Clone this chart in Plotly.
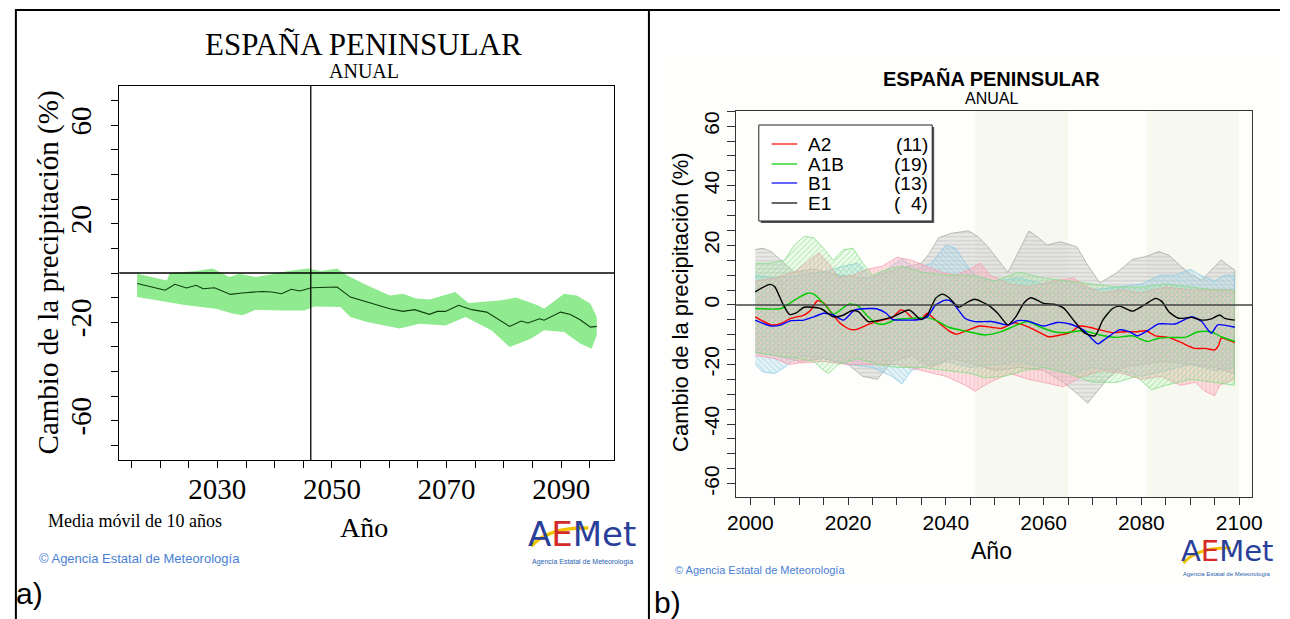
import plotly.graph_objects as go

W, H = 1290, 619

# ---------------- Panel a data (10-year moving mean, ensemble band) -------------
a_line_years = [2016.0, 2020.9, 2022.6, 2024.6, 2026.3, 2027.5, 2029.5, 2032.3, 2034.3, 2037.8,
                2039.5, 2041.2, 2042.9, 2044.4, 2046.4, 2048.7, 2050.9, 2053.2, 2056.7, 2060.1,
                2062.4, 2064.4, 2067.0, 2068.4, 2069.8, 2072.1, 2074.4, 2077.0, 2081.0, 2083.0,
                2084.2, 2086.2, 2087.0, 2089.9, 2091.6, 2093.3, 2095.1, 2096.2]
a_line_vals = [-4.3, -7.0, -4.6, -6.1, -5.0, -6.4, -6.0, -8.7, -8.1, -7.5,
               -7.7, -8.4, -6.6, -7.3, -6.0, -5.7, -5.7, -9.8, -12.1, -14.5,
               -15.6, -14.9, -16.8, -15.6, -15.6, -13.1, -14.9, -15.9, -21.7, -19.5,
               -20.3, -18.6, -19.2, -15.9, -16.9, -19.0, -22.0, -21.7]
a_up_years = [2016.0, 2021.2, 2021.7, 2026.3, 2029.2, 2032.1, 2033.8, 2036.7, 2039.0, 2042.4,
              2045.8, 2048.1, 2050.9, 2052.6, 2056.1, 2060.1, 2062.4, 2064.7, 2067.0, 2071.5,
              2073.8, 2079.6, 2082.1, 2085.9, 2087.0, 2090.5, 2092.7, 2095.1, 2096.2]
a_up_vals = [-0.3, -3.0, 0.0, 0.8, 1.8, -1.6, -0.3, -1.6, -0.7, 0.8,
             1.8, 0.8, 1.8, -0.9, -5.0, -9.1, -8.4, -10.4, -10.8, -7.7,
             -12.2, -11.1, -10.0, -13.1, -14.5, -8.4, -9.1, -12.5, -17.9]
a_lo_years = [2016.0, 2021.2, 2024.6, 2029.8, 2032.6, 2034.4, 2036.7, 2041.2, 2045.2, 2046.9,
              2051.5, 2053.2, 2056.1, 2061.8, 2065.3, 2069.8, 2073.3, 2077.8, 2081.0, 2084.7,
              2087.0, 2090.5, 2093.3, 2095.3, 2096.2]
a_lo_vals = [-9.8, -11.8, -13.1, -14.5, -16.5, -17.2, -14.9, -15.2, -15.2, -13.6,
             -13.8, -17.9, -19.9, -22.6, -20.6, -21.3, -17.9, -23.3, -30.1, -26.7,
             -23.3, -24.0, -28.7, -30.8, -25.3]
a_vline_year = 2046.3
a_xticks = [2030, 2050, 2070, 2090]
a_yticks = [-60, -20, 20, 60]

# ---------------- Panel b data (scenarios) -------------
scen_names = ["A2", "A1B", "B1", "E1"]
scen_counts = ["(11)", "(19)", "(13)", "(  4)"]
scen_colors = ["#ff0000", "#00cc00", "#0000ff", "#000000"]

a2_years = [2001, 2004.3, 2006.3, 2008.3, 2011, 2012.4, 2013.7, 2015, 2016.4, 2018.4, 2020.4, 2021.8,
            2024.4, 2027.1, 2029.1, 2030.8, 2031.8, 2033.2, 2034.9, 2036.2, 2037.9, 2040.6, 2042.2,
            2044.6, 2046.9, 2049.3, 2051.3, 2054, 2056.7, 2059.4, 2061, 2063.4, 2065.4, 2067.4,
            2069.4, 2071.5, 2074.1, 2076.8, 2079.2, 2080.9, 2082.9, 2085.6, 2088.2, 2090.9, 2093,
            2095, 2095.8, 2096.3, 2099.1]
a2_vals = [-4.0, -6.7, -6.2, -4.5, -3.4, -1.7, 1.4, 0.7, -2.3, -6.2, -8.2, -8.2,
           -6.4, -5.1, -4.2, -1.7, -2.3, -4.5, -4.8, -2.8, -5.1, -8.7, -9.8,
           -8.4, -7.1, -7.5, -7.9, -6.0, -7.3, -9.5, -10.7, -10.1, -9.3, -7.1,
           -7.5, -8.4, -9.3, -9.0, -9.0, -8.7, -10.4, -10.9, -12.7, -14.6, -14.6,
           -15.1, -13.5, -11.2, -12.7]
a1b_years = [2001, 2006.3, 2009, 2011.7, 2013, 2015, 2017.1, 2019.1, 2020.4, 2022.1, 2024.1, 2025.8,
             2027.5, 2029.8, 2033.2, 2035.9, 2037.9, 2040.6, 2044.6, 2048, 2051.3, 2054, 2056.7,
             2059.4, 2062.1, 2064.7, 2068.1, 2071.5, 2074.8, 2078.2, 2081.2, 2083.5, 2086.2, 2088.9,
             2091.6, 2094.3, 2096.3, 2099.1]
a1b_vals = [-1.2, -1.2, 1.6, 3.9, 3.6, 0.5, -3.1, -0.8, 0.3, -0.4, -4.0, -6.2,
            -6.4, -4.9, -4.5, -4.2, -5.1, -7.5, -9.0, -10.1, -9.0, -7.1, -5.6,
            -7.5, -9.0, -9.3, -8.7, -10.1, -10.9, -10.4, -12.3, -11.2, -10.9, -10.9,
            -9.0, -9.0, -10.7, -12.3]
b1_years = [2001, 2004.3, 2006.3, 2008.3, 2011, 2013, 2015, 2017, 2019.1, 2021.4, 2024.4, 2025.8,
            2027.8, 2029.1, 2032.5, 2034.2, 2036.2, 2037.9, 2039.9, 2041.2, 2043.9, 2045.9, 2049.3,
            2052.7, 2054.7, 2056.7, 2060, 2062.7, 2065.4, 2068.1, 2070.1, 2071.1, 2072.8, 2075.5,
            2077.5, 2079.2, 2081.5, 2083.5, 2086.9, 2090.3, 2092.3, 2094.3, 2095.6, 2099.1]
b1_vals = [-5.1, -7.1, -6.7, -5.3, -5.1, -4.0, -2.8, -3.4, -5.1, -1.7, -1.2, -1.3,
           -2.8, -4.9, -5.1, -5.0, -4.0, 0.0, 1.6, 1.1, -4.5, -5.6, -5.6,
           -6.7, -5.3, -5.4, -7.1, -5.9, -6.4, -8.4, -11.8, -13.1, -11.2, -8.4,
           -9.0, -10.4, -8.4, -6.4, -6.4, -4.0, -5.6, -9.5, -6.7, -7.5]
e1_years = [2001, 2004, 2005, 2006.6, 2008, 2009.3, 2011, 2014.4, 2017, 2019.1, 2020.8, 2022.1,
            2024.1, 2026.5, 2029.1, 2032.5, 2034.9, 2036.2, 2037.9, 2039.2, 2040.6, 2042.6, 2044.6,
            2045.9, 2048.6, 2050.6, 2052.7, 2054.3, 2056, 2057.4, 2060, 2062.1, 2064.1, 2066.1,
            2068.4, 2070.5, 2072.1, 2074.1, 2075.5, 2078.2, 2080.9, 2082.9, 2084.2, 2085.6, 2087.6,
            2090.3, 2092.3, 2094.3, 2096, 2097, 2099.1]
e1_vals = [4.4, 6.9, 6.1, 0.5, -3.2, -2.8, -0.8, -1.2, -4.0, -3.4, -1.9, -2.3,
           -5.6, -5.1, -4.0, -1.7, -4.9, -3.4, 2.2, 3.6, 2.5, -0.8, 1.1,
           1.9, 0.0, -2.8, -6.7, -4.0, 0.7, 2.4, 0.5, 0.2, -1.1, -5.1,
           -9.5, -10.4, -5.1, -1.2, -0.4, -2.1, 0.3, 2.2, 1.1, -2.3, -4.5,
           -4.2, -5.1, -4.7, -3.4, -4.5, -5.1]

# envelopes (upper / lower) per scenario
e1_up_years = [2001, 2002.6, 2004.3, 2006.3, 2009, 2013, 2018, 2024, 2030, 2035, 2036.5, 2038.5,
               2041, 2044.6, 2046.5, 2048.6, 2051.3, 2052.7, 2054.7, 2057, 2058.7, 2060.7, 2063.4,
               2066.8, 2068.8, 2071.5, 2074.8, 2078.2, 2080.9, 2083.5, 2085.6, 2088.2, 2090.3,
               2092.3, 2094.3, 2096.3, 2097.5, 2099.1]
e1_up_vals = [18.6, 19.0, 17.9, 15.1, 11.0, 12.0, 10.0, 9.0, 12.0, 14.0, 17.0, 22.5,
              24.0, 24.9, 23.0, 19.5, 13.9, 10.9, 17.3, 24.8, 22.9, 20.1, 21.2,
              19.5, 13.9, 7.4, 10.6, 15.3, 16.2, 17.9, 16.7, 12.8, 10.0,
              8.3, 11.7, 15.1, 13.5, 11.7]
e1_lo_years = [2001, 2005, 2010, 2015, 2020, 2023, 2026, 2029, 2033, 2037, 2041, 2046, 2050, 2055,
               2060, 2064, 2067, 2069, 2071, 2073, 2076, 2080, 2085, 2090, 2095, 2099]
e1_lo_vals = [-16, -17, -19, -18, -20, -24, -25, -19, -17, -21, -18, -20, -22, -21,
              -22, -26, -30, -33, -29, -25, -21, -20, -19, -20, -21, -23]

b1_up_years = [2001, 2005, 2010, 2015, 2019, 2022, 2025, 2028, 2031, 2034, 2037, 2040, 2042, 2044,
               2046, 2050, 2055, 2060, 2065, 2070, 2075, 2080, 2084, 2087, 2090, 2092, 2095, 2097, 2099]
b1_up_vals = [10, 9, 10, 11, 13, 14, 9, 12, 15.5, 12, 14, 20, 19, 14,
              10, 8, 9, 7, 8, 5, 6, 7, 10, 10, 12, 10, 8, 10, 10]
b1_lo_years = [2001, 2002.5, 2005, 2007, 2010, 2015, 2020, 2025, 2029, 2031, 2033, 2037, 2040, 2045,
               2050, 2055, 2060, 2065, 2070, 2075, 2080, 2085, 2090, 2095, 2099]
b1_lo_vals = [-20, -22.5, -23, -21, -17, -18, -20, -21, -24, -26.5, -22, -20, -19, -21,
              -20, -19, -21, -23, -21, -22, -24, -22, -20, -22, -21]

a2_up_years = [2001, 2005, 2009, 2012, 2014, 2016, 2018, 2021, 2024, 2027, 2030, 2033, 2036, 2039,
               2042, 2045, 2047, 2049, 2053, 2057, 2062, 2066, 2069, 2072, 2076, 2080, 2085, 2090,
               2095, 2099]
a2_up_vals = [8, 9, 11, 15, 17.5, 14, 9, 10, 12, 13, 16, 15, 13, 11,
              10, 12, 14, 10, 7, 6, 8, 9, 6, 4, 5, 4, 6, 5, 5, 5]
a2_lo_years = [2001, 2005, 2008, 2010, 2015, 2020, 2025, 2030, 2035, 2040, 2044, 2046, 2049, 2053,
               2057, 2060, 2064, 2068, 2072, 2076, 2080, 2084, 2088, 2091, 2093, 2095, 2096, 2099]
a2_lo_vals = [-17, -18, -20, -19.5, -19, -20, -20, -20, -22, -24, -27, -29, -26, -23,
              -25, -26, -27.5, -24, -22, -23, -25, -24, -27, -26, -29, -30.5, -27, -25]

a1b_up_years = [2001, 2004, 2007, 2009, 2011, 2013, 2015, 2017, 2019, 2021, 2023, 2025, 2028, 2031,
                2035, 2040, 2045, 2050, 2055, 2060, 2065, 2070, 2075, 2080, 2085, 2090, 2095, 2099]
a1b_up_vals = [14, 14, 15, 20, 23, 22.5, 19, 15, 18.5, 19, 14, 10, 12, 13,
               11, 10, 10, 8, 11, 9, 8, 7, 6, 6, 7, 6, 5, 5]
a1b_lo_years = [2001, 2005, 2010, 2013, 2015, 2016, 2018, 2022, 2026, 2030, 2035, 2040, 2045, 2048,
                2052, 2056, 2060, 2065, 2070, 2075, 2079, 2082, 2085, 2090, 2095, 2099]
a1b_lo_vals = [-16, -17, -18, -19, -22, -23, -20, -18, -20, -21, -21, -22, -23, -24.5,
               -24, -22, -21, -23, -26, -26, -24, -28.5, -27, -25, -26, -27]

b_periods = [(2046, 2065), (2081, 2100)]
b_xticks = [2000, 2020, 2040, 2060, 2080, 2100]
b_yticks = [-60, -40, -20, 0, 20, 40, 60]


def px(x):
    return x / W


def py(y):
    return 1 - y / H


fig = go.Figure()

# ---------------- Panel a traces ----------------
fig.add_trace(go.Scatter(
    x=a_up_years + a_lo_years[::-1], y=a_up_vals + a_lo_vals[::-1],
    fill="toself", fillcolor="#90ea90", line=dict(color="#90ea90", width=0),
    mode="lines", hoverinfo="skip", xaxis="x", yaxis="y", showlegend=False))
fig.add_trace(go.Scatter(
    x=a_line_years, y=a_line_vals, mode="lines",
    line=dict(color="#0b3d0b", width=1.1), xaxis="x", yaxis="y", showlegend=False))

# ---------------- Panel b traces ----------------
bands = [
    (e1_up_years, e1_up_vals, e1_lo_years, e1_lo_vals, "#a9a9a9", "rgba(205,205,205,0.40)", "-"),
    (b1_up_years, b1_up_vals, b1_lo_years, b1_lo_vals, "#8ccbe6", "rgba(173,216,230,0.28)", "\\"),
    (a2_up_years, a2_up_vals, a2_lo_years, a2_lo_vals, "#f5a0b0", "rgba(255,182,193,0.38)", "|"),
    (a1b_up_years, a1b_up_vals, a1b_lo_years, a1b_lo_vals, "#86dc86", "rgba(144,238,144,0.12)", "/"),
]
for uy, uv, ly, lv, fg, fc, shp in bands:
    fig.add_trace(go.Scatter(
        x=uy + ly[::-1], y=uv + lv[::-1], fill="toself", fillcolor=fc,
        fillpattern=dict(shape=shp, fgcolor=fg, size=4, solidity=0.3, fillmode="overlay"),
        line=dict(color=fg, width=0.8), mode="lines", hoverinfo="skip",
        xaxis="x2", yaxis="y2", showlegend=False))

series = [(a2_years, a2_vals), (a1b_years, a1b_vals), (b1_years, b1_vals), (e1_years, e1_vals)]
for (yrs, vals), name, col in zip(series, scen_names, scen_colors):
    fig.add_trace(go.Scatter(
        x=yrs, y=vals, mode="lines", name=name,
        line=dict(color=col, width=1.4, shape="spline", smoothing=0.6),
        xaxis="x2", yaxis="y2", showlegend=False))

SERIF = "Liberation Serif"
SANS = "Liberation Sans"

fig.update_layout(
    width=W, height=H, margin=dict(l=0, r=0, t=0, b=0),
    paper_bgcolor="white", plot_bgcolor="rgba(0,0,0,0)", showlegend=False,
    xaxis=dict(domain=[px(112), px(614)], range=[2012.9, 2099.2], anchor="y",
               showline=True, mirror=True, linecolor="black", linewidth=1,
               ticks="outside", ticklen=7, tickcolor="black", tickvals=a_xticks,
               ticktext=[str(v) for v in a_xticks], ticklabelstandoff=-4,
               minor=dict(tick0=2015, dtick=5, ticks="outside", ticklen=7, tickcolor="black"),
               showgrid=False, zeroline=False, tickfont=dict(family=SERIF, size=29, color="black")),
    yaxis=dict(domain=[py(460), py(86)], range=[-76, 76], anchor="x",
               showline=True, mirror=True, linecolor="black", linewidth=1,
               ticks="outside", ticklen=7, tickcolor="black", tickvals=a_yticks,
               ticktext=[str(v) for v in a_yticks], tickangle=-90, ticklabelstandoff=9,
               minor=dict(tick0=0, dtick=10, ticks="outside", ticklen=7, tickcolor="black"),
               showgrid=False, zeroline=False, tickfont=dict(family=SERIF, size=29, color="black")),
    xaxis2=dict(domain=[px(738), px(1262)], range=[1997.1, 2102.7], anchor="y2",
                showline=True, mirror=True, linecolor="#333333", linewidth=1.2,
                ticks="outside", ticklen=7, tickcolor="#333333", tickvals=b_xticks,
                ticktext=[str(v) for v in b_xticks],
                minor=dict(tick0=2000, dtick=5, ticks="outside", ticklen=7, tickcolor="#333333"),
                showgrid=False, zeroline=False, tickfont=dict(family=SANS, size=21, color="black")),
    yaxis2=dict(domain=[py(497), py(110.7)], range=[-64.5, 65.2], anchor="x2",
                showline=True, mirror=True, linecolor="#333333", linewidth=1.2,
                ticks="outside", ticklen=8, tickcolor="#333333", tickvals=b_yticks,
                ticktext=[str(v) for v in b_yticks], tickangle=-90,
                minor=dict(tick0=0, dtick=5, ticks="outside", ticklen=8, tickcolor="#333333"),
                showgrid=False, zeroline=False, tickfont=dict(family=SANS, size=21, color="black")),
)

shapes = []
# panel b off-white background
shapes.append(dict(type="rect", xref="paper", yref="paper", x0=px(659), x1=1, y0=py(585), y1=py(52),
                   fillcolor="#fefefc", line=dict(width=0), layer="below"))
# shaded future periods in panel b
for x0, x1 in b_periods:
    shapes.append(dict(type="rect", xref="x2", yref="y2 domain", x0=x0, x1=x1, y0=0, y1=1,
                       fillcolor="#f7f9f0", line=dict(width=0), layer="below"))
# reference lines
shapes.append(dict(type="line", xref="x domain", yref="y", x0=0, x1=1, y0=0, y1=0,
                   line=dict(color="black", width=1.3)))
shapes.append(dict(type="line", xref="x", yref="y domain", x0=a_vline_year, x1=a_vline_year, y0=0, y1=1,
                   line=dict(color="black", width=1.3)))
shapes.append(dict(type="line", xref="x2 domain", yref="y2", x0=0, x1=1, y0=0, y1=0,
                   line=dict(color="#444444", width=1.5)))
# table borders
shapes.append(dict(type="line", xref="paper", yref="paper", x0=px(6), x1=1, y0=py(10), y1=py(10),
                   line=dict(color="black", width=2)))
shapes.append(dict(type="line", xref="paper", yref="paper", x0=px(7), x1=px(7), y0=0, y1=py(10),
                   line=dict(color="black", width=2)))
shapes.append(dict(type="line", xref="paper", yref="paper", x0=px(649.5), x1=px(649.5), y0=0, y1=py(10),
                   line=dict(color="black", width=2)))
# legend box (panel b) with shadow
shapes.append(dict(type="rect", xref="paper", yref="paper", x0=px(763), x1=px(939), y0=py(223), y1=py(127),
                   fillcolor="#555555", line=dict(width=0)))
shapes.append(dict(type="rect", xref="paper", yref="paper", x0=px(761), x1=px(937), y0=py(221), y1=py(125),
                   fillcolor="white", line=dict(color="#222222", width=1)))
leg_rows = [144, 164, 183, 203]
for yy, col in zip(leg_rows, scen_colors):
    shapes.append(dict(type="line", xref="paper", yref="paper", x0=px(774), x1=px(800), y0=py(yy), y1=py(yy),
                       line=dict(color=col, width=1.2)))


# AEMet logo swooshes
def swoosh(x0, y0, x1, y1, cx, cy):
    return "M %f %f Q %f %f %f %f" % (px(x0), py(y0), px(cx), py(cy), px(x1), py(y1))


shapes.append(dict(type="path", xref="paper", yref="paper", path=swoosh(530, 546, 588, 528, 548, 527),
                   line=dict(color="#f2c200", width=3.5)))
shapes.append(dict(type="path", xref="paper", yref="paper", path=swoosh(1192, 563, 1240, 548, 1206, 547),
                   line=dict(color="#f2c200", width=3)))

annotations = []


def ann(text, x, y, size, family=SANS, color="black", angle=0, xanchor="center", bold=False):
    annotations.append(dict(text=("<b>%s</b>" % text) if bold else text, x=px(x), y=py(y),
                            xref="paper", yref="paper", showarrow=False, textangle=angle,
                            xanchor=xanchor, yanchor="middle",
                            font=dict(family=family, size=size, color=color)))


# panel a texts
ann("ESPAÑA PENINSULAR", 360, 44, 31, SERIF)
ann("ANUAL", 360, 71, 20, SERIF)
ann("Cambio de la precipitación (%)", 40, 272, 29, SERIF, angle=-90)
ann("Año", 360, 527, 28, SERIF)
ann("Media móvil de 10 años", 38, 521, 18, SERIF, xanchor="left")
ann("© Agencia Estatal de Meteorología", 28, 558, 13, SANS, color="#4a7fd4", xanchor="left")
ann("a)", 5, 593, 30, SANS, xanchor="left")
ann("<span style='color:#2a3f9a'>A</span><span style='color:#d42a2a'>E</span>"
    "<span style='color:#2a3f9a'>Met</span>", 582, 534, 34, "DejaVu Sans")
ann("Agencia Estatal de Meteorología", 582, 562, 7, SANS, color="#2a5fb0")

# panel b texts
ann("ESPAÑA PENINSULAR", 997, 79, 20, SANS, bold=True)
ann("ANUAL", 997, 98, 16, SANS)
ann("Cambio de la precipitación (%)", 681, 302, 22, SANS, angle=-90)
ann("Año", 997, 551, 23, SANS)
ann("© Agencia Estatal de Meteorología", 674, 570, 11, SANS, color="#4a7fd4", xanchor="left")
ann("b)", 653, 602, 30, SANS, xanchor="left")
ann("<span style='color:#2a3f9a'>A</span><span style='color:#d42a2a'>E</span>"
    "<span style='color:#2a3f9a'>Met</span>", 1236, 551, 29, "DejaVu Sans")
ann("Agencia Estatal de Meteorología", 1236, 574, 6, SANS, color="#2a5fb0")

# legend texts
for yy, name, cnt in zip(leg_rows, scen_names, scen_counts):
    ann(name, 809, yy, 19, SANS, xanchor="left")
    annotations.append(dict(text=cnt, x=px(935), y=py(yy), xref="paper", yref="paper",
                            showarrow=False, xanchor="right", yanchor="middle",
                            font=dict(family=SANS, size=19, color="black")))

fig.update_layout(shapes=shapes, annotations=annotations)
fig.write_html("out.html")
